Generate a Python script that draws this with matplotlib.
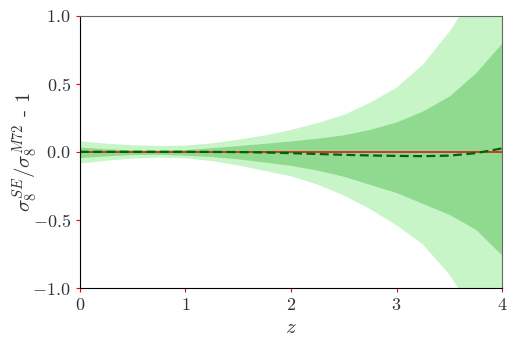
import matplotlib
matplotlib.use("Agg")
import matplotlib.pyplot as plt

plt.rcParams['font.family'] = 'serif'
plt.rcParams['font.serif'] = ['cmr10']
plt.rcParams['mathtext.fontset'] = 'cm'
plt.rcParams['axes.formatter.use_mathtext'] = True

# redshift grid and band edges
z = [0, 0.25, 0.5, 0.75, 1.0, 1.25, 1.5, 1.75, 2.0, 2.25, 2.5, 2.75, 3.0, 3.25, 3.5, 3.75, 4.0]
inner_hi = [0.035, 0.022, 0.014, 0.012, 0.016, 0.03, 0.046, 0.062, 0.08, 0.10, 0.125, 0.165, 0.22, 0.30, 0.41, 0.58, 0.80]
inner_lo = [-0.043, -0.03, -0.02, -0.018, -0.025, -0.035, -0.052, -0.075, -0.10, -0.135, -0.18, -0.24, -0.30, -0.38, -0.46, -0.57, -0.76]
outer_hi = [0.077, 0.06, 0.048, 0.042, 0.045, 0.062, 0.088, 0.12, 0.16, 0.21, 0.27, 0.36, 0.47, 0.64, 0.88, 1.18, 1.5]
outer_lo = [-0.087, -0.065, -0.05, -0.043, -0.048, -0.068, -0.10, -0.14, -0.18, -0.24, -0.32, -0.42, -0.54, -0.68, -0.90, -1.2, -1.55]
ratio = [0.0, 0.0, 0.0, 0.0, 0.0, -0.001, -0.002, -0.005, -0.01, -0.016, -0.022, -0.027, -0.03, -0.032, -0.028, -0.01, 0.025]

fig, ax = plt.subplots(figsize=(5.15, 3.45), dpi=100)
fig.subplots_adjust(left=0.155, right=0.975, bottom=0.165, top=0.955)

ax.fill_between(z, outer_lo, outer_hi, color='#c8f5c8', lw=0)
ax.fill_between(z, inner_lo, inner_hi, color='#90da90', lw=0)
ax.axhline(0, color='#d62728', lw=1.3)
ax.plot(z, ratio, color='darkgreen', ls=(0, (4, 2)), lw=1.6)

ax.set_xlim(0, 4)
ax.set_ylim(-1, 1)
ax.set_xticks([0, 1, 2, 3, 4])
ax.set_yticks([-1, -0.5, 0, 0.5, 1])
ax.set_yticklabels(['$-1.0$', '$-0.5$', '$0.0$', '$0.5$', '$1.0$'])
ax.set_xticklabels(['$0$', '$1$', '$2$', '$3$', '$4$'])
ax.tick_params(colors='red', labelcolor='#333333', labelsize=13, length=3)
for s in ['top', 'right']:
    ax.spines[s].set_color('#666666')

ax.set_xlabel('$z$', fontsize=15, color='#333333')
ax.set_ylabel(r'$\sigma_8^{SE}/\sigma_8^{M72}$ - 1', fontsize=15, color='#333333')
ax.yaxis.set_label_coords(-0.095, 0.5)

fig.savefig('out.png', dpi=100)
